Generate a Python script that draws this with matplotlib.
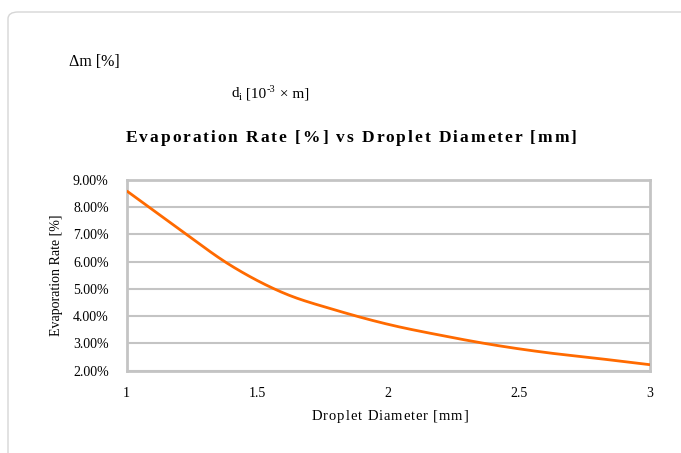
import numpy as np
import matplotlib
matplotlib.use("Agg")
import matplotlib.pyplot as plt
from matplotlib.patches import FancyBboxPatch
from matplotlib.ticker import FuncFormatter
from matplotlib.font_manager import FontProperties

# Droplet diameter [mm] and evaporation rate [%]
diameter_mm = [1.0, 1.2, 1.4, 1.6, 1.8, 2.0, 2.2, 2.4, 2.6, 2.8, 3.0]
evap_rate_pct = [8.60, 7.20, 5.85, 4.85, 4.22, 3.70, 3.30, 2.95, 2.67, 2.45, 2.22]

x_ticks = [1, 1.5, 2, 2.5, 3]
y_ticks = [2, 3, 4, 5, 6, 7, 8, 9]

title = "Evaporation Rate [%] vs Droplet Diameter [mm]"
x_label = "Droplet Diameter [mm]"
y_label = "Evaporation Rate [%]"

SERIF = ["Liberation Serif", "DejaVu Serif"]
GRID = "#c4c4c4"
LINE = "#ff6a00"
W, H = 681, 453


def catmull_rom(xs, ys, n=20):
    xs = np.asarray(xs, float)
    ys = np.asarray(ys, float)
    px = np.concatenate([[2 * xs[0] - xs[1]], xs, [2 * xs[-1] - xs[-2]]])
    py = np.concatenate([[2 * ys[0] - ys[1]], ys, [2 * ys[-1] - ys[-2]]])
    out_x, out_y = [], []
    for i in range(1, len(px) - 2):
        t = np.linspace(0, 1, n, endpoint=False)
        for arr, out in ((px, out_x), (py, out_y)):
            p0, p1, p2, p3 = arr[i - 1], arr[i], arr[i + 1], arr[i + 2]
            out.extend(0.5 * ((2 * p1) + (-p0 + p2) * t
                              + (2 * p0 - 5 * p1 + 4 * p2 - p3) * t ** 2
                              + (-p0 + 3 * p1 - 3 * p2 + p3) * t ** 3))
    out_x.append(xs[-1])
    out_y.append(ys[-1])
    return np.array(out_x), np.array(out_y)


fig = plt.figure(figsize=(W / 100, H / 100), dpi=100)
fig.patch.set_facecolor("white")
renderer = fig.canvas.get_renderer()


def ink_width(s, prop):
    w, _, _ = renderer.get_text_width_height_descent(s, prop, ismath=False)
    return w


def tracked_text(cx, baseline_y, s, size, track, weight="normal"):
    """Centered text with extra letter spacing (pixel units, top-left origin)."""
    prop = FontProperties(family=SERIF, size=size, weight=weight)
    offs = [ink_width(s[:i + 1], prop) - ink_width(s[i], prop) for i in range(len(s))]
    total = ink_width(s, prop) + track * (len(s) - 1)
    x0 = cx - total / 2
    for i, ch in enumerate(s):
        if ch == " ":
            continue
        fig.text((x0 + offs[i] + track * i) / W, 1 - baseline_y / H, ch,
                 fontproperties=prop, ha="left", va="baseline")


# rounded card border
card = FancyBboxPatch((8 / W, -0.2), 1.2, 1 - 12 / H + 0.2,
                      boxstyle="round,pad=0,rounding_size=0.015",
                      transform=fig.transFigure, facecolor="none",
                      edgecolor="#d6d6d6", linewidth=1.0, zorder=-5)
fig.patches.append(card)

fig.text(69 / W, 1 - 62 / H, "Δm [%]", family=SERIF, fontsize=11.5,
         ha="left", va="center")

# d_i [10^-3 × m] laid out as separate runs so the exponent keeps a hyphen
runs = [("d", 11, 0), ("i", 7.5, -2.5), (" [10", 11, 0), ("-3", 7.5, 5), (" × m]", 11, 0)]
x = 231.0
base = 97.0
for txt, size, dy in runs:
    prop = FontProperties(family=SERIF, size=size)
    fig.text(x / W, 1 - (base - dy) / H, txt, fontproperties=prop, ha="left", va="baseline")
    adv = ink_width(txt + "I", prop) - ink_width("I", prop)
    x += adv + 0.5

tracked_text(351, 141.7, title, 12.5, 1.95, weight="bold")
tracked_text(390, 420, x_label, 10.5, 0.9)

ax = fig.add_axes([126.7 / W, 1 - 370.7 / H, (650 - 126.7) / W, (370.7 - 180) / H])
sx, sy = catmull_rom(diameter_mm, evap_rate_pct)
ax.plot(sx, sy, color=LINE, linewidth=2.0, solid_capstyle="butt", zorder=3)

ax.set_xlim(1, 3)
ax.set_ylim(2, 9)
ax.set_xticks(x_ticks)
ax.set_yticks(y_ticks)
ax.xaxis.set_major_formatter(FuncFormatter(lambda v, p: f"{v:g}"))
ax.yaxis.set_major_formatter(FuncFormatter(lambda v, p: f"{v:.2f}%"))
ax.grid(axis="y", color=GRID, linewidth=1.5)
ax.set_axisbelow(True)
for s in ax.spines.values():
    s.set_color(GRID)
    s.set_linewidth(2.0)
ax.tick_params(length=0, labelsize=10)
ax.tick_params(axis="x", pad=12)
ax.tick_params(axis="y", pad=13)
for lbl in ax.get_xticklabels() + ax.get_yticklabels():
    lbl.set_family(SERIF)
ax.set_ylabel(y_label, family=SERIF, fontsize=10, labelpad=8)
ax.yaxis.set_label_coords(-(126.7 - 56.7) / (650 - 126.7), 0.5)
ax.yaxis.label.set_va("center")

fig.savefig("out.png", dpi=100, facecolor="white")
